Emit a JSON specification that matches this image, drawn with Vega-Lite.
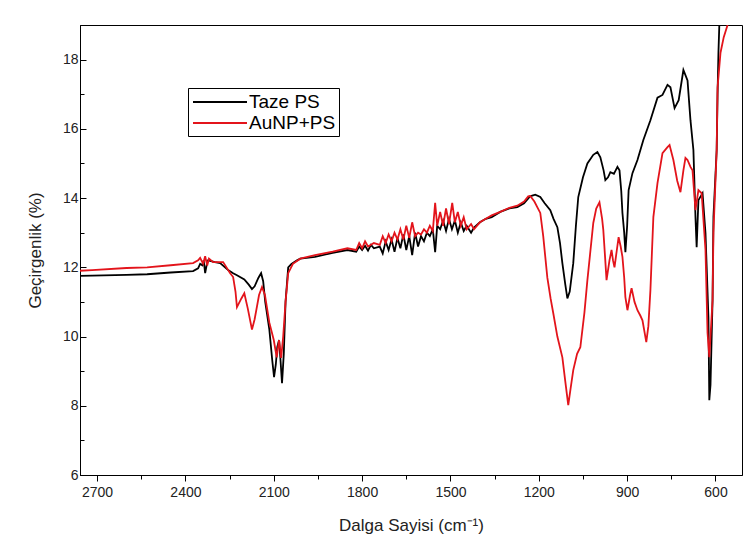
{
"$schema": "https://vega.github.io/schema/vega-lite/v6.json",
"width": 662, "height": 450,
"autosize": {"type": "none"},
"padding": {"left": 80, "top": 25, "right": 13, "bottom": 78},
"background": "white",
"config": {"view": {"stroke": "#000", "strokeWidth": 1}, "font": "Liberation Sans"},
"datasets": {
"taze": [
{"w":2758,"t":11.75,"s":"Taze PS"},{"w":2717,"t":11.76,"s":"Taze PS"},{"w":2600,"t":11.78,"s":"Taze PS"},{"w":2530,"t":11.8,"s":"Taze PS"},{"w":2450,"t":11.85,"s":"Taze PS"},{"w":2374,"t":11.89,"s":"Taze PS"},{"w":2357,"t":11.97,"s":"Taze PS"},{"w":2350,"t":12.1,"s":"Taze PS"},{"w":2343,"t":12.06,"s":"Taze PS"},{"w":2338,"t":12.2,"s":"Taze PS"},{"w":2333,"t":11.83,"s":"Taze PS"},{"w":2326,"t":12.15,"s":"Taze PS"},{"w":2323,"t":12.2,"s":"Taze PS"},{"w":2300,"t":12.15,"s":"Taze PS"},{"w":2282,"t":12.12,"s":"Taze PS"},{"w":2255,"t":11.92,"s":"Taze PS"},{"w":2238,"t":11.83,"s":"Taze PS"},{"w":2225,"t":11.77,"s":"Taze PS"},{"w":2200,"t":11.65,"s":"Taze PS"},{"w":2185,"t":11.5,"s":"Taze PS"},{"w":2174,"t":11.37,"s":"Taze PS"},{"w":2165,"t":11.45,"s":"Taze PS"},{"w":2152,"t":11.7,"s":"Taze PS"},{"w":2143,"t":11.83,"s":"Taze PS"},{"w":2136,"t":11.6,"s":"Taze PS"},{"w":2129,"t":11.0,"s":"Taze PS"},{"w":2115,"t":10.2,"s":"Taze PS"},{"w":2105,"t":9.3,"s":"Taze PS"},{"w":2099,"t":8.83,"s":"Taze PS"},{"w":2093,"t":9.2,"s":"Taze PS"},{"w":2088,"t":9.7,"s":"Taze PS"},{"w":2082,"t":9.9,"s":"Taze PS"},{"w":2077,"t":9.3,"s":"Taze PS"},{"w":2072,"t":8.65,"s":"Taze PS"},{"w":2066,"t":9.5,"s":"Taze PS"},{"w":2060,"t":11.0,"s":"Taze PS"},{"w":2051,"t":12.0,"s":"Taze PS"},{"w":2040,"t":12.1,"s":"Taze PS"},{"w":2021,"t":12.2,"s":"Taze PS"},{"w":2010,"t":12.25,"s":"Taze PS"},{"w":1960,"t":12.3,"s":"Taze PS"},{"w":1900,"t":12.42,"s":"Taze PS"},{"w":1850,"t":12.5,"s":"Taze PS"},{"w":1820,"t":12.45,"s":"Taze PS"},{"w":1810,"t":12.6,"s":"Taze PS"},{"w":1800,"t":12.5,"s":"Taze PS"},{"w":1790,"t":12.62,"s":"Taze PS"},{"w":1780,"t":12.48,"s":"Taze PS"},{"w":1770,"t":12.65,"s":"Taze PS"},{"w":1760,"t":12.55,"s":"Taze PS"},{"w":1740,"t":12.6,"s":"Taze PS"},{"w":1730,"t":12.4,"s":"Taze PS"},{"w":1720,"t":12.75,"s":"Taze PS"},{"w":1710,"t":12.5,"s":"Taze PS"},{"w":1700,"t":12.8,"s":"Taze PS"},{"w":1690,"t":12.45,"s":"Taze PS"},{"w":1680,"t":12.85,"s":"Taze PS"},{"w":1670,"t":12.55,"s":"Taze PS"},{"w":1660,"t":12.95,"s":"Taze PS"},{"w":1650,"t":12.5,"s":"Taze PS"},{"w":1640,"t":12.9,"s":"Taze PS"},{"w":1630,"t":12.35,"s":"Taze PS"},{"w":1620,"t":13.0,"s":"Taze PS"},{"w":1610,"t":12.6,"s":"Taze PS"},{"w":1600,"t":12.9,"s":"Taze PS"},{"w":1590,"t":12.75,"s":"Taze PS"},{"w":1580,"t":13.0,"s":"Taze PS"},{"w":1570,"t":12.9,"s":"Taze PS"},{"w":1560,"t":13.1,"s":"Taze PS"},{"w":1552,"t":12.44,"s":"Taze PS"},{"w":1545,"t":13.2,"s":"Taze PS"},{"w":1535,"t":13.1,"s":"Taze PS"},{"w":1525,"t":13.35,"s":"Taze PS"},{"w":1515,"t":13.05,"s":"Taze PS"},{"w":1505,"t":13.4,"s":"Taze PS"},{"w":1495,"t":13.1,"s":"Taze PS"},{"w":1485,"t":13.35,"s":"Taze PS"},{"w":1475,"t":13.0,"s":"Taze PS"},{"w":1465,"t":13.3,"s":"Taze PS"},{"w":1455,"t":13.05,"s":"Taze PS"},{"w":1445,"t":13.2,"s":"Taze PS"},{"w":1430,"t":13.0,"s":"Taze PS"},{"w":1420,"t":13.15,"s":"Taze PS"},{"w":1400,"t":13.3,"s":"Taze PS"},{"w":1380,"t":13.4,"s":"Taze PS"},{"w":1360,"t":13.45,"s":"Taze PS"},{"w":1331,"t":13.6,"s":"Taze PS"},{"w":1300,"t":13.7,"s":"Taze PS"},{"w":1273,"t":13.74,"s":"Taze PS"},{"w":1250,"t":13.85,"s":"Taze PS"},{"w":1230,"t":14.05,"s":"Taze PS"},{"w":1212,"t":14.1,"s":"Taze PS"},{"w":1195,"t":14.03,"s":"Taze PS"},{"w":1180,"t":13.85,"s":"Taze PS"},{"w":1161,"t":13.65,"s":"Taze PS"},{"w":1150,"t":13.4,"s":"Taze PS"},{"w":1137,"t":13.16,"s":"Taze PS"},{"w":1128,"t":12.7,"s":"Taze PS"},{"w":1120,"t":12.12,"s":"Taze PS"},{"w":1110,"t":11.5,"s":"Taze PS"},{"w":1103,"t":11.1,"s":"Taze PS"},{"w":1095,"t":11.3,"s":"Taze PS"},{"w":1083,"t":12.12,"s":"Taze PS"},{"w":1074,"t":13.2,"s":"Taze PS"},{"w":1066,"t":14.03,"s":"Taze PS"},{"w":1050,"t":14.6,"s":"Taze PS"},{"w":1035,"t":15.0,"s":"Taze PS"},{"w":1015,"t":15.25,"s":"Taze PS"},{"w":1001,"t":15.33,"s":"Taze PS"},{"w":991,"t":15.18,"s":"Taze PS"},{"w":980,"t":14.8,"s":"Taze PS"},{"w":974,"t":14.52,"s":"Taze PS"},{"w":965,"t":14.6,"s":"Taze PS"},{"w":957,"t":14.75,"s":"Taze PS"},{"w":945,"t":14.7,"s":"Taze PS"},{"w":933,"t":14.9,"s":"Taze PS"},{"w":926,"t":14.8,"s":"Taze PS"},{"w":920,"t":14.2,"s":"Taze PS"},{"w":916,"t":13.57,"s":"Taze PS"},{"w":910,"t":13.0,"s":"Taze PS"},{"w":906,"t":12.44,"s":"Taze PS"},{"w":900,"t":13.2,"s":"Taze PS"},{"w":895,"t":14.23,"s":"Taze PS"},{"w":882,"t":14.72,"s":"Taze PS"},{"w":865,"t":15.1,"s":"Taze PS"},{"w":845,"t":15.68,"s":"Taze PS"},{"w":821,"t":16.25,"s":"Taze PS"},{"w":797,"t":16.9,"s":"Taze PS"},{"w":780,"t":16.98,"s":"Taze PS"},{"w":763,"t":17.27,"s":"Taze PS"},{"w":753,"t":17.2,"s":"Taze PS"},{"w":739,"t":16.6,"s":"Taze PS"},{"w":725,"t":16.83,"s":"Taze PS"},{"w":709,"t":17.7,"s":"Taze PS"},{"w":695,"t":17.4,"s":"Taze PS"},{"w":685,"t":16.25,"s":"Taze PS"},{"w":675,"t":15.39,"s":"Taze PS"},{"w":668,"t":13.45,"s":"Taze PS"},{"w":664,"t":12.58,"s":"Taze PS"},{"w":658,"t":13.94,"s":"Taze PS"},{"w":644,"t":14.14,"s":"Taze PS"},{"w":634,"t":12.99,"s":"Taze PS"},{"w":624,"t":10.56,"s":"Taze PS"},{"w":621,"t":8.16,"s":"Taze PS"},{"w":617,"t":8.6,"s":"Taze PS"},{"w":610,"t":11.05,"s":"Taze PS"},{"w":607,"t":13.45,"s":"Taze PS"},{"w":596,"t":15.39,"s":"Taze PS"},{"w":593,"t":17.0,"s":"Taze PS"},{"w":590,"t":18.2,"s":"Taze PS"},{"w":587,"t":19.0,"s":"Taze PS"}
],
"aunp": [
{"w":2758,"t":11.9,"s":"AuNP+PS"},{"w":2717,"t":11.92,"s":"AuNP+PS"},{"w":2600,"t":11.98,"s":"AuNP+PS"},{"w":2530,"t":12.0,"s":"AuNP+PS"},{"w":2450,"t":12.06,"s":"AuNP+PS"},{"w":2374,"t":12.12,"s":"AuNP+PS"},{"w":2357,"t":12.2,"s":"AuNP+PS"},{"w":2350,"t":12.27,"s":"AuNP+PS"},{"w":2340,"t":12.1,"s":"AuNP+PS"},{"w":2333,"t":12.32,"s":"AuNP+PS"},{"w":2326,"t":12.05,"s":"AuNP+PS"},{"w":2320,"t":12.25,"s":"AuNP+PS"},{"w":2306,"t":12.15,"s":"AuNP+PS"},{"w":2272,"t":12.15,"s":"AuNP+PS"},{"w":2248,"t":11.83,"s":"AuNP+PS"},{"w":2238,"t":11.72,"s":"AuNP+PS"},{"w":2230,"t":11.3,"s":"AuNP+PS"},{"w":2225,"t":10.85,"s":"AuNP+PS"},{"w":2210,"t":11.1,"s":"AuNP+PS"},{"w":2200,"t":11.25,"s":"AuNP+PS"},{"w":2188,"t":10.8,"s":"AuNP+PS"},{"w":2174,"t":10.2,"s":"AuNP+PS"},{"w":2165,"t":10.5,"s":"AuNP+PS"},{"w":2150,"t":11.2,"s":"AuNP+PS"},{"w":2140,"t":11.43,"s":"AuNP+PS"},{"w":2130,"t":11.2,"s":"AuNP+PS"},{"w":2115,"t":10.4,"s":"AuNP+PS"},{"w":2100,"t":9.9,"s":"AuNP+PS"},{"w":2090,"t":9.4,"s":"AuNP+PS"},{"w":2082,"t":9.9,"s":"AuNP+PS"},{"w":2075,"t":9.38,"s":"AuNP+PS"},{"w":2068,"t":10.0,"s":"AuNP+PS"},{"w":2060,"t":11.0,"s":"AuNP+PS"},{"w":2051,"t":11.83,"s":"AuNP+PS"},{"w":2035,"t":12.1,"s":"AuNP+PS"},{"w":2010,"t":12.25,"s":"AuNP+PS"},{"w":1960,"t":12.35,"s":"AuNP+PS"},{"w":1900,"t":12.45,"s":"AuNP+PS"},{"w":1850,"t":12.55,"s":"AuNP+PS"},{"w":1820,"t":12.5,"s":"AuNP+PS"},{"w":1810,"t":12.7,"s":"AuNP+PS"},{"w":1800,"t":12.55,"s":"AuNP+PS"},{"w":1790,"t":12.75,"s":"AuNP+PS"},{"w":1780,"t":12.6,"s":"AuNP+PS"},{"w":1760,"t":12.7,"s":"AuNP+PS"},{"w":1740,"t":12.65,"s":"AuNP+PS"},{"w":1730,"t":12.9,"s":"AuNP+PS"},{"w":1720,"t":12.7,"s":"AuNP+PS"},{"w":1710,"t":12.95,"s":"AuNP+PS"},{"w":1700,"t":12.75,"s":"AuNP+PS"},{"w":1690,"t":13.0,"s":"AuNP+PS"},{"w":1680,"t":12.8,"s":"AuNP+PS"},{"w":1670,"t":13.1,"s":"AuNP+PS"},{"w":1660,"t":12.8,"s":"AuNP+PS"},{"w":1650,"t":13.2,"s":"AuNP+PS"},{"w":1640,"t":12.85,"s":"AuNP+PS"},{"w":1630,"t":13.3,"s":"AuNP+PS"},{"w":1620,"t":12.9,"s":"AuNP+PS"},{"w":1610,"t":13.0,"s":"AuNP+PS"},{"w":1600,"t":12.95,"s":"AuNP+PS"},{"w":1590,"t":13.1,"s":"AuNP+PS"},{"w":1580,"t":13.0,"s":"AuNP+PS"},{"w":1570,"t":13.2,"s":"AuNP+PS"},{"w":1560,"t":13.05,"s":"AuNP+PS"},{"w":1552,"t":13.86,"s":"AuNP+PS"},{"w":1545,"t":13.2,"s":"AuNP+PS"},{"w":1535,"t":13.6,"s":"AuNP+PS"},{"w":1525,"t":13.2,"s":"AuNP+PS"},{"w":1515,"t":13.7,"s":"AuNP+PS"},{"w":1505,"t":13.25,"s":"AuNP+PS"},{"w":1494,"t":13.86,"s":"AuNP+PS"},{"w":1485,"t":13.3,"s":"AuNP+PS"},{"w":1475,"t":13.6,"s":"AuNP+PS"},{"w":1465,"t":13.2,"s":"AuNP+PS"},{"w":1455,"t":13.45,"s":"AuNP+PS"},{"w":1445,"t":13.1,"s":"AuNP+PS"},{"w":1430,"t":13.25,"s":"AuNP+PS"},{"w":1420,"t":13.1,"s":"AuNP+PS"},{"w":1400,"t":13.3,"s":"AuNP+PS"},{"w":1380,"t":13.4,"s":"AuNP+PS"},{"w":1360,"t":13.5,"s":"AuNP+PS"},{"w":1331,"t":13.6,"s":"AuNP+PS"},{"w":1300,"t":13.72,"s":"AuNP+PS"},{"w":1273,"t":13.78,"s":"AuNP+PS"},{"w":1250,"t":13.9,"s":"AuNP+PS"},{"w":1236,"t":14.05,"s":"AuNP+PS"},{"w":1229,"t":14.06,"s":"AuNP+PS"},{"w":1215,"t":13.9,"s":"AuNP+PS"},{"w":1195,"t":13.57,"s":"AuNP+PS"},{"w":1185,"t":12.9,"s":"AuNP+PS"},{"w":1171,"t":11.7,"s":"AuNP+PS"},{"w":1160,"t":11.1,"s":"AuNP+PS"},{"w":1151,"t":10.68,"s":"AuNP+PS"},{"w":1137,"t":10.0,"s":"AuNP+PS"},{"w":1120,"t":9.4,"s":"AuNP+PS"},{"w":1110,"t":8.7,"s":"AuNP+PS"},{"w":1100,"t":8.02,"s":"AuNP+PS"},{"w":1092,"t":8.5,"s":"AuNP+PS"},{"w":1083,"t":9.03,"s":"AuNP+PS"},{"w":1070,"t":9.5,"s":"AuNP+PS"},{"w":1059,"t":9.69,"s":"AuNP+PS"},{"w":1045,"t":10.7,"s":"AuNP+PS"},{"w":1035,"t":11.63,"s":"AuNP+PS"},{"w":1015,"t":13.28,"s":"AuNP+PS"},{"w":1005,"t":13.7,"s":"AuNP+PS"},{"w":994,"t":13.88,"s":"AuNP+PS"},{"w":985,"t":13.4,"s":"AuNP+PS"},{"w":981,"t":13.08,"s":"AuNP+PS"},{"w":975,"t":12.3,"s":"AuNP+PS"},{"w":970,"t":11.63,"s":"AuNP+PS"},{"w":960,"t":12.2,"s":"AuNP+PS"},{"w":953,"t":12.5,"s":"AuNP+PS"},{"w":948,"t":12.2,"s":"AuNP+PS"},{"w":943,"t":12.0,"s":"AuNP+PS"},{"w":935,"t":12.5,"s":"AuNP+PS"},{"w":929,"t":12.87,"s":"AuNP+PS"},{"w":922,"t":12.6,"s":"AuNP+PS"},{"w":916,"t":12.3,"s":"AuNP+PS"},{"w":910,"t":11.7,"s":"AuNP+PS"},{"w":906,"t":11.14,"s":"AuNP+PS"},{"w":899,"t":10.76,"s":"AuNP+PS"},{"w":890,"t":11.2,"s":"AuNP+PS"},{"w":885,"t":11.4,"s":"AuNP+PS"},{"w":875,"t":11.0,"s":"AuNP+PS"},{"w":865,"t":10.76,"s":"AuNP+PS"},{"w":855,"t":10.6,"s":"AuNP+PS"},{"w":848,"t":10.47,"s":"AuNP+PS"},{"w":835,"t":9.84,"s":"AuNP+PS"},{"w":828,"t":10.3,"s":"AuNP+PS"},{"w":821,"t":11.34,"s":"AuNP+PS"},{"w":811,"t":13.45,"s":"AuNP+PS"},{"w":797,"t":14.43,"s":"AuNP+PS"},{"w":780,"t":15.3,"s":"AuNP+PS"},{"w":763,"t":15.47,"s":"AuNP+PS"},{"w":756,"t":15.53,"s":"AuNP+PS"},{"w":743,"t":15.1,"s":"AuNP+PS"},{"w":730,"t":14.5,"s":"AuNP+PS"},{"w":719,"t":14.17,"s":"AuNP+PS"},{"w":709,"t":14.8,"s":"AuNP+PS"},{"w":702,"t":15.16,"s":"AuNP+PS"},{"w":695,"t":15.1,"s":"AuNP+PS"},{"w":685,"t":14.9,"s":"AuNP+PS"},{"w":678,"t":14.8,"s":"AuNP+PS"},{"w":668,"t":13.65,"s":"AuNP+PS"},{"w":658,"t":14.23,"s":"AuNP+PS"},{"w":647,"t":14.14,"s":"AuNP+PS"},{"w":634,"t":12.5,"s":"AuNP+PS"},{"w":627,"t":10.1,"s":"AuNP+PS"},{"w":621,"t":9.4,"s":"AuNP+PS"},{"w":610,"t":11.05,"s":"AuNP+PS"},{"w":607,"t":12.99,"s":"AuNP+PS"},{"w":596,"t":15.39,"s":"AuNP+PS"},{"w":593,"t":17.2,"s":"AuNP+PS"},{"w":583,"t":18.2,"s":"AuNP+PS"},{"w":572,"t":18.65,"s":"AuNP+PS"},{"w":559,"t":19.0,"s":"AuNP+PS"}
]
},
"encoding": {
  "x": {"field": "w", "type": "quantitative",
    "scale": {"domain": [510, 2758], "reverse": true, "nice": false, "zero": false},
    "axis": {"values": [2700,2550,2400,2250,2100,1950,1800,1650,1500,1350,1200,1050,900,750,600],
      "format": "d", "labelExpr": "datum.value % 300 === 0 ? datum.label : ''",
      "tickSize": {"condition": {"test": "datum.value % 300 === 0", "value": 6}, "value": 4},
      "grid": false, "domainColor": "#000", "tickColor": "#000", "labelColor": "#222",
      "labelFontSize": 14, "labelPadding": 4, "labelFont": "Liberation Sans",
      "title": "Dalga Sayisi (cm⁻¹)", "titleFontSize": 17, "titleFontWeight": "normal",
      "titleColor": "#222", "titlePadding": 18, "titleFont": "Liberation Sans"}},
  "y": {"field": "t", "type": "quantitative",
    "scale": {"domain": [6, 19], "nice": false, "zero": false},
    "axis": {"values": [6,7,8,9,10,11,12,13,14,15,16,17,18,19],
      "labelExpr": "datum.value % 2 === 0 ? datum.label : ''",
      "tickSize": {"condition": {"test": "datum.value % 2 === 0", "value": -6}, "value": -4},
      "grid": false, "domainColor": "#000", "tickColor": "#000", "labelColor": "#222",
      "labelFontSize": 14, "labelPadding": 8, "labelFont": "Liberation Sans",
      "title": "Geçirgenlik (%)", "titleFontSize": 17, "titleFontWeight": "normal",
      "titleColor": "#222", "titlePadding": 18, "titleFont": "Liberation Sans"}},
  "color": {"field": "s", "type": "nominal",
    "scale": {"domain": ["Taze PS", "AuNP+PS"], "range": ["#000000", "#e3141b"]},
    "legend": {"title": null, "orient": "none", "legendX": 108, "legendY": 63,
      "symbolType": "M-0.9,0H4.5", "symbolSize": 400, "symbolStrokeWidth": 2,
      "labelFontSize": 19, "labelFont": "Liberation Sans", "labelColor": "#000",
      "strokeColor": "#000", "fillColor": "#fff", "padding": 3, "rowPadding": 0,
      "labelOffset": 36}}
},
"layer": [
  {"data": {"name": "taze"}, "mark": {"type": "line", "strokeWidth": 1.8, "clip": true}},
  {"data": {"name": "aunp"}, "mark": {"type": "line", "strokeWidth": 1.8, "clip": true}}
]
}
